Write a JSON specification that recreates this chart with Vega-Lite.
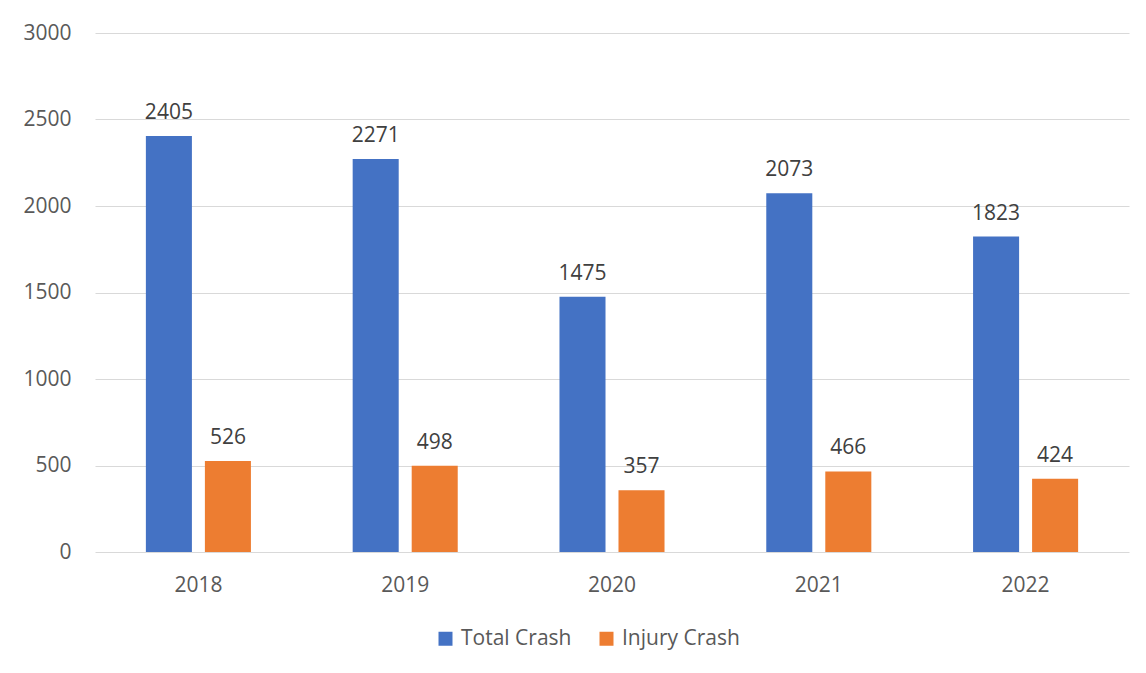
{
  "$schema": "https://vega.github.io/schema/vega-lite/v6.json",
  "width": 1034,
  "height": 519,
  "autosize": "none",
  "padding": {"left": 95, "top": 33, "right": 17, "bottom": 121},
  "background": "white",
  "config": {
    "view": {"stroke": null},
    "font": "Open Sans",
    "axis": {"labelFont": "Open Sans", "labelColor": "#595959", "labelFontSize": 21},
    "legend": {"labelFont": "Open Sans", "labelColor": "#595959", "labelFontSize": 21}
  },
  "data": {
    "values": [
      {"year": "2018", "series": "Total Crash", "value": 2405},
      {"year": "2018", "series": "Injury Crash", "value": 526},
      {"year": "2019", "series": "Total Crash", "value": 2271},
      {"year": "2019", "series": "Injury Crash", "value": 498},
      {"year": "2020", "series": "Total Crash", "value": 1475},
      {"year": "2020", "series": "Injury Crash", "value": 357},
      {"year": "2021", "series": "Total Crash", "value": 2073},
      {"year": "2021", "series": "Injury Crash", "value": 466},
      {"year": "2022", "series": "Total Crash", "value": 1823},
      {"year": "2022", "series": "Injury Crash", "value": 424}
    ]
  },
  "encoding": {
    "x": {
      "field": "year",
      "type": "nominal",
      "scale": {"paddingInner": 0.492, "paddingOuter": 0.246},
      "axis": {"title": null, "labelAngle": 0, "ticks": false, "tickSize": 0, "domain": false, "labelPadding": 22, "grid": false}
    },
    "xOffset": {
      "field": "series",
      "sort": ["Total Crash", "Injury Crash"],
      "scale": {"paddingInner": 0.22, "paddingOuter": 0}
    },
    "y": {
      "field": "value",
      "type": "quantitative",
      "scale": {"domain": [0, 3000], "nice": false},
      "axis": {"title": null, "format": "d", "values": [0, 500, 1000, 1500, 2000, 2500, 3000], "ticks": false, "tickSize": 0, "domain": false, "labelPadding": 24, "grid": true, "gridColor": "#D9D9D9", "gridWidth": 1}
    }
  },
  "layer": [
    {
      "mark": {"type": "bar"},
      "encoding": {
        "color": {
          "field": "series",
          "type": "nominal",
          "scale": {"domain": ["Total Crash", "Injury Crash"], "range": ["#4472C4", "#ED7D31"]},
          "legend": {"title": null, "orient": "none", "legendX": 340, "legendY": 595, "direction": "horizontal", "symbolType": "square", "symbolSize": 196, "symbolStrokeWidth": 0, "labelOffset": 5, "columnPadding": 24}
        }
      }
    },
    {
      "mark": {"type": "text", "baseline": "alphabetic", "dy": -17, "fontSize": 21, "color": "#404040"},
      "encoding": {"text": {"field": "value", "type": "quantitative"}}
    }
  ]
}
